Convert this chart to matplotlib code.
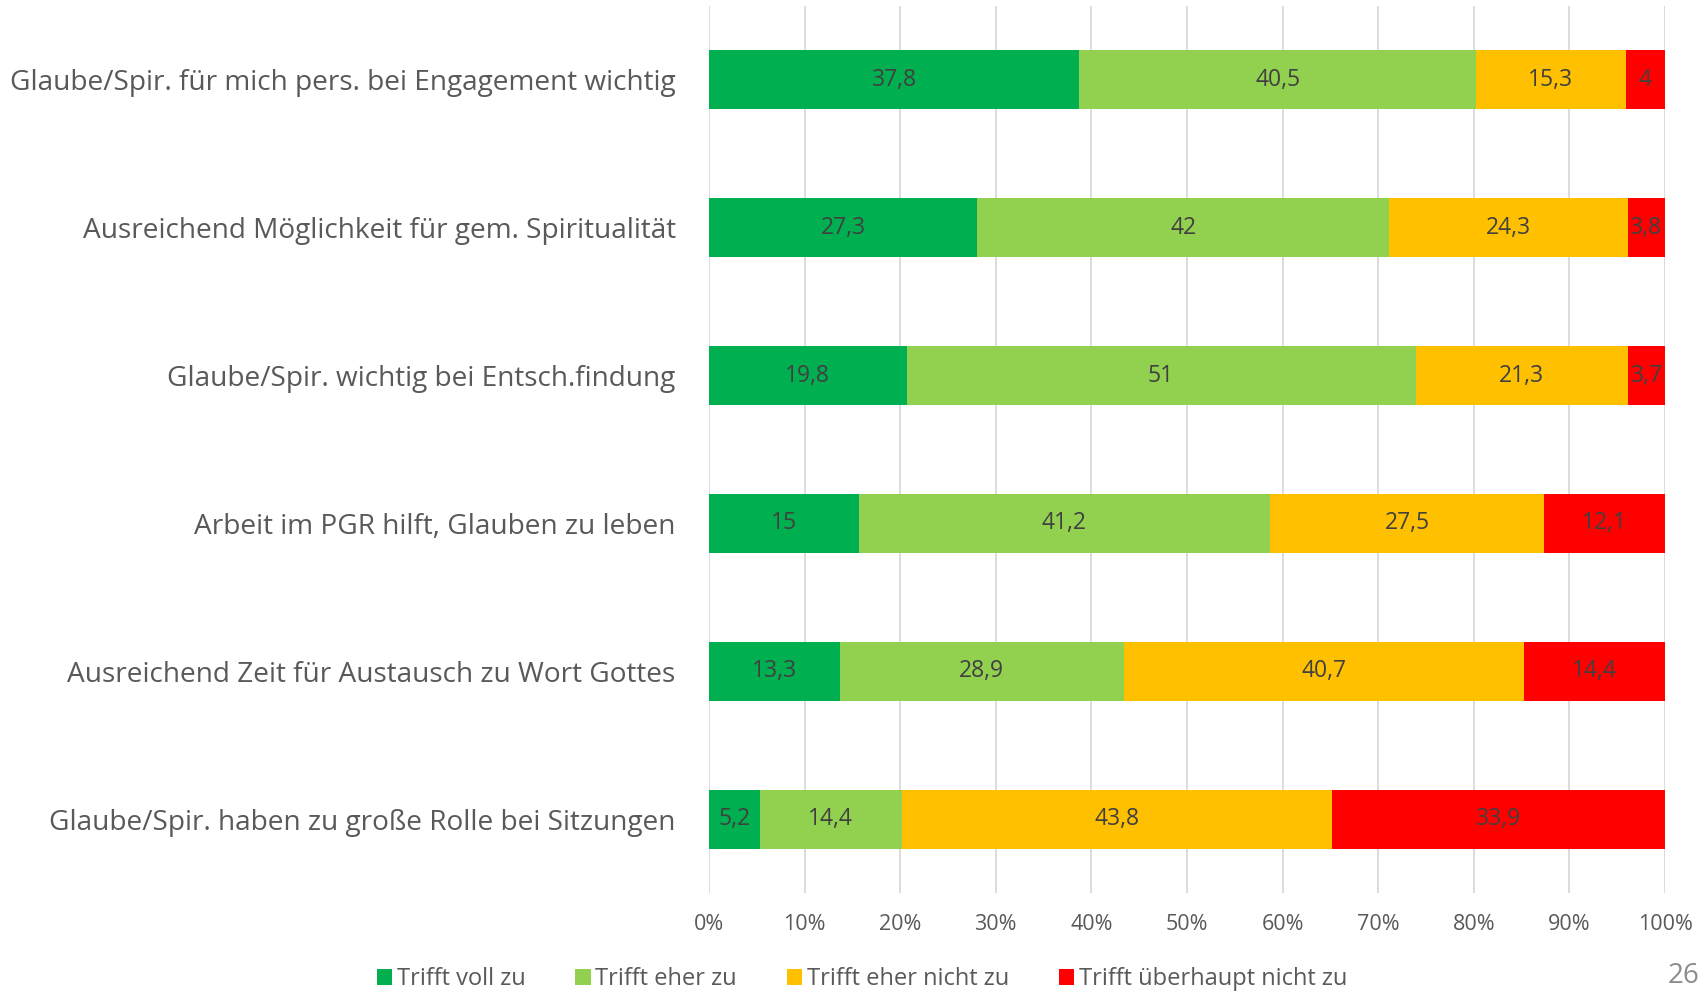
import matplotlib
matplotlib.use("Agg")
import matplotlib.pyplot as plt
import numpy as np

categories = [
    "Glaube/Spir. für mich pers. bei Engagement wichtig",
    "Ausreichend Möglichkeit für gem. Spiritualität",
    "Glaube/Spir. wichtig bei Entsch.findung",
    "Arbeit im PGR hilft, Glauben zu leben",
    "Ausreichend Zeit für Austausch zu Wort Gottes",
    "Glaube/Spir. haben zu große Rolle bei Sitzungen",
]
series_names = ["Trifft voll zu", "Trifft eher zu", "Trifft eher nicht zu", "Trifft überhaupt nicht zu"]
voll = [37.8, 27.3, 19.8, 15, 13.3, 5.2]
eher = [40.5, 42, 51, 41.2, 28.9, 14.4]
eher_nicht = [15.3, 24.3, 21.3, 27.5, 40.7, 43.8]
ueberhaupt_nicht = [4, 3.8, 3.7, 12.1, 14.4, 33.9]
xtick_labels = ["0%", "10%", "20%", "30%", "40%", "50%", "60%", "70%", "80%", "90%", "100%"]

colors = ["#00B050", "#92D050", "#FFC000", "#FF0000"]
FONT = "Open Sans"
TXT = "#595959"

W, H = 1707, 991
fig = plt.figure(figsize=(W / 100, H / 100), dpi=100)
ax_left, ax_right = 709 / W, 1665 / W
ax_top, ax_bot = 6 / H, 893 / H
ax = fig.add_axes([ax_left, 1 - ax_bot, ax_right - ax_left, ax_bot - ax_top])

data = np.array([voll, eher, eher_nicht, ueberhaupt_nicht], dtype=float)
totals = data.sum(axis=0)
shares = data / totals * 100
y = np.arange(len(categories))
left = np.zeros(len(categories))
for i, (name, col) in enumerate(zip(series_names, colors)):
    bars = ax.barh(y, shares[i], left=left, height=0.4, color=col, label=name, zorder=3)
    for j, b in enumerate(bars):
        val = data[i, j]
        lbl = ("%g" % val).replace(".", ",")
        ax.text(left[j] + shares[i, j] / 2, y[j], lbl, ha="center", va="center",
                fontsize=16.5, color="#404040", family=FONT, zorder=4)
    left += shares[i]

ax.set_xlim(0, 100)
ax.set_ylim(len(categories) - 0.5, -0.5)
ax.set_xticks(np.arange(0, 101, 10))
ax.set_xticklabels(xtick_labels, family=FONT, fontsize=15.5, color=TXT)
ax.set_yticks(y)
ax.set_yticklabels(categories, family=FONT, fontsize=20.2, color=TXT)
ax.tick_params(axis="both", length=0)
ax.tick_params(axis="y", pad=24)
ax.tick_params(axis="x", pad=15)
ax.grid(axis="x", color="#D9D9D9", linewidth=1.3, zorder=0)
for s in ax.spines.values():
    s.set_visible(False)

handles, labels = ax.get_legend_handles_labels()
leg = fig.legend(handles, labels, loc="center", bbox_to_anchor=(862 / W, 1 - 979 / H), ncol=4,
                 frameon=False, prop={"family": FONT, "size": 17}, handlelength=0.65,
                 handleheight=0.65, handletextpad=0.2, columnspacing=2.1, labelcolor=TXT,
                 borderpad=0.1)

fig.text(1668 / W, 1 - 976 / H, "26", fontsize=20, color="#8C8C8C", family=FONT, va="center", ha="left")

fig.savefig("out.png", dpi=100)
